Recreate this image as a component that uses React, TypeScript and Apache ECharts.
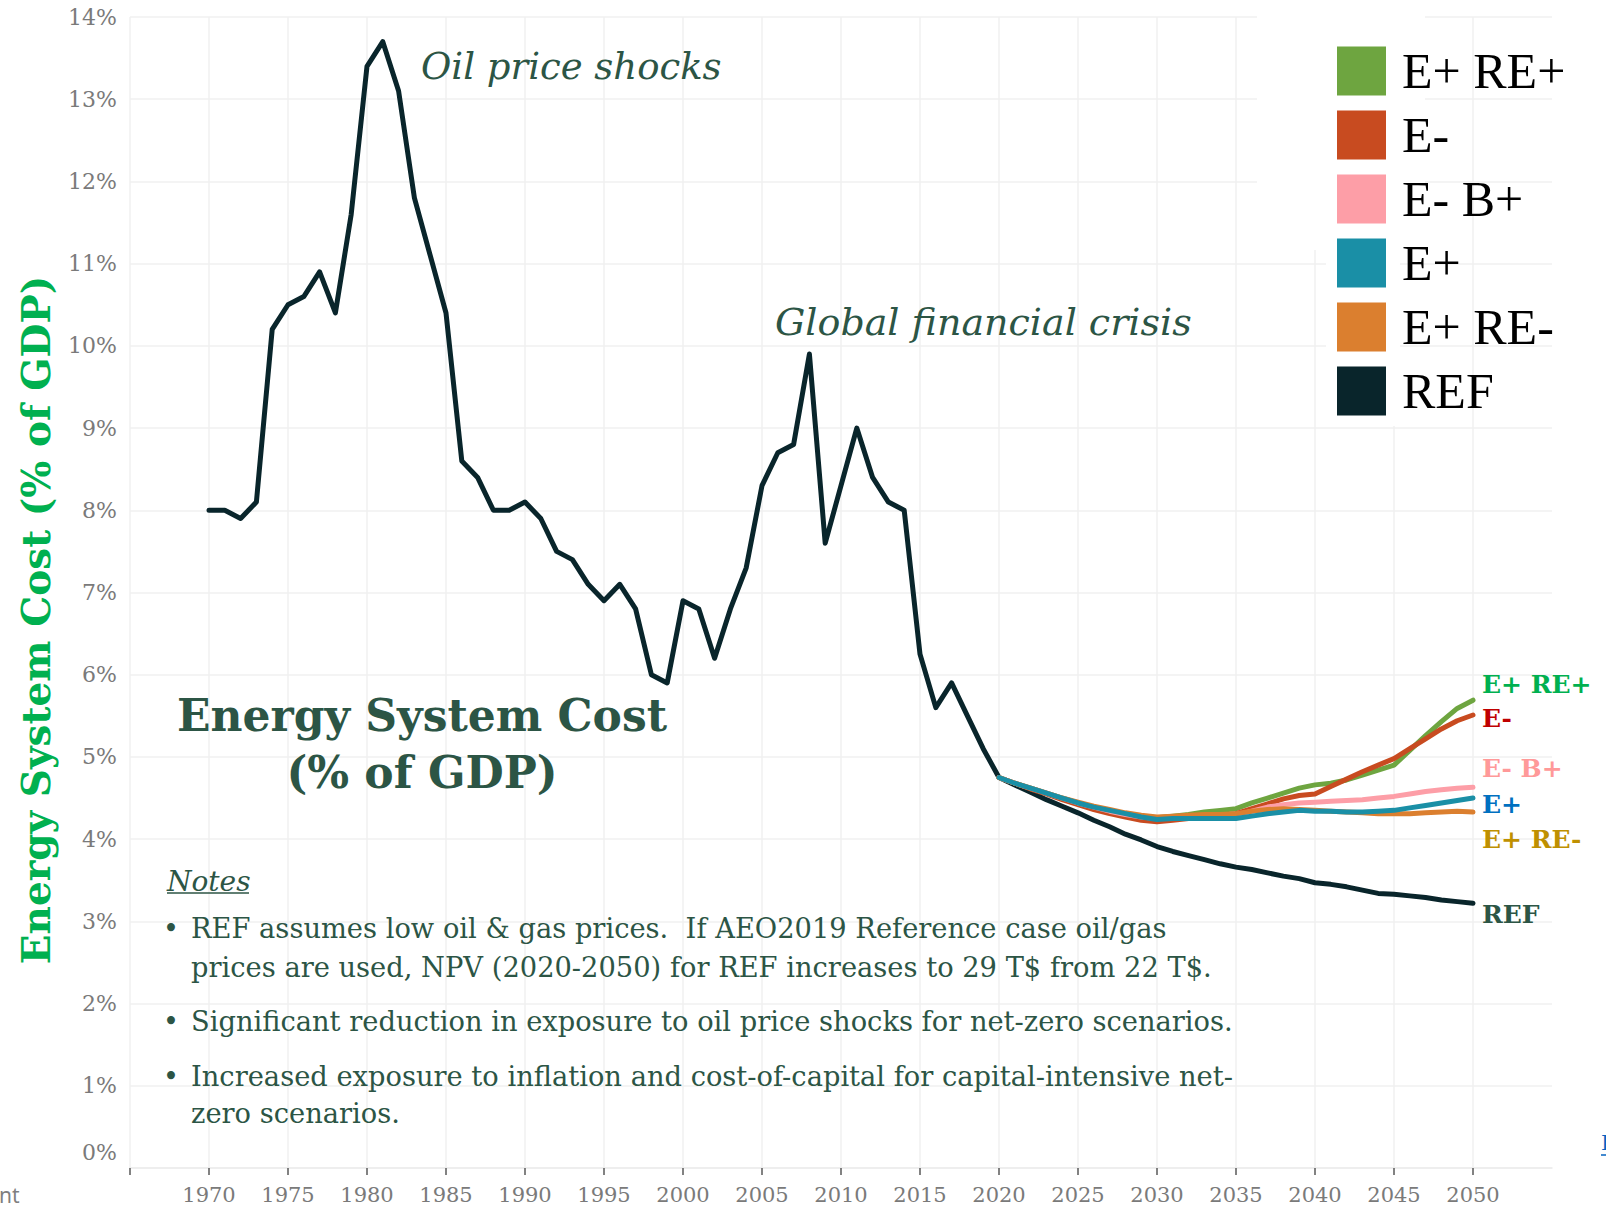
import React, { useEffect, useRef } from 'react';
import * as echarts from 'echarts';

// ---------------- DATA ----------------
const refStartYear = 1970;
// REF: historical 1970-2020 and projection 2021-2050 (% of GDP)
const refValues = [
  8.0, 8.0, 7.9, 8.1, 10.2, 10.5, 10.6, 10.9, 10.4, 11.6,
  13.4, 13.7, 13.1, 11.8, 11.1, 10.4, 8.6, 8.4, 8.0, 8.0,
  8.1, 7.9, 7.5, 7.4, 7.1, 6.9, 7.1, 6.8, 6.0, 5.9,
  6.9, 6.8, 6.2, 6.8, 7.3, 8.3, 8.7, 8.8, 9.9, 7.6,
  8.3, 9.0, 8.4, 8.1, 8.0, 6.25, 5.6, 5.9, 5.5, 5.1,
  4.75,
  4.66, 4.57, 4.48, 4.40, 4.32, 4.23, 4.15, 4.06, 3.99, 3.91,
  3.85, 3.80, 3.75, 3.70, 3.66, 3.63, 3.59, 3.55, 3.52, 3.47,
  3.45, 3.42, 3.38, 3.34, 3.33, 3.31, 3.29, 3.26, 3.24, 3.22,
];

const scenarioStartYear = 2020;
const ePlusREPlus = [
  4.75, 4.68, 4.62, 4.56, 4.50, 4.44, 4.39, 4.35, 4.31, 4.28, 4.26,
  4.28, 4.30, 4.33, 4.35, 4.37, 4.44, 4.50, 4.56, 4.62, 4.66,
  4.68, 4.72, 4.78, 4.84, 4.90, 5.08, 5.26, 5.43, 5.59, 5.69,
];
const eMinus = [
  4.75, 4.68, 4.61, 4.55, 4.48, 4.42, 4.36, 4.31, 4.27, 4.23, 4.21,
  4.23, 4.25, 4.27, 4.29, 4.31, 4.37, 4.43, 4.49, 4.53, 4.55,
  4.64, 4.73, 4.82, 4.90, 4.98, 5.10, 5.22, 5.34, 5.44, 5.51,
];
const eMinusBPlus = [
  4.75, 4.68, 4.62, 4.56, 4.50, 4.44, 4.39, 4.34, 4.30, 4.27, 4.25,
  4.26, 4.27, 4.28, 4.28, 4.29, 4.34, 4.39, 4.42, 4.44, 4.45,
  4.46, 4.47, 4.48, 4.50, 4.52, 4.55, 4.58, 4.60, 4.62, 4.63,
];
const ePlus = [
  4.75, 4.68, 4.62, 4.56, 4.50, 4.44, 4.39, 4.35, 4.31, 4.27, 4.24,
  4.25, 4.25, 4.25, 4.25, 4.25, 4.28, 4.31, 4.33, 4.35, 4.34,
  4.34, 4.33, 4.33, 4.34, 4.35, 4.38, 4.41, 4.44, 4.47, 4.50,
];
const ePlusREMinus = [
  4.75, 4.68, 4.62, 4.56, 4.50, 4.45, 4.40, 4.36, 4.32, 4.29, 4.27,
  4.28, 4.29, 4.30, 4.30, 4.31, 4.34, 4.36, 4.37, 4.36, 4.35,
  4.34, 4.33, 4.32, 4.31, 4.31, 4.31, 4.32, 4.33, 4.34, 4.33,
];

const legendNames = ['E+ RE+', 'E-', 'E- B+', 'E+', 'E+ RE-', 'REF'];
const xTickYears = [1965, 1970, 1975, 1980, 1985, 1990, 1995, 2000, 2005, 2010, 2015, 2020, 2025, 2030, 2035, 2040, 2045, 2050];
const xLabelYears = [1970, 1975, 1980, 1985, 1990, 1995, 2000, 2005, 2010, 2015, 2020, 2025, 2030, 2035, 2040, 2045, 2050];

const noteLines = [
  'REF assumes low oil & gas prices.\u00a0 If AEO2019 Reference case oil/gas',
  'prices are used, NPV (2020-2050) for REF increases to 29 T$ from 22 T$.',
  'Significant reduction in exposure to oil price shocks for net-zero scenarios.',
  'Increased exposure to inflation and cost-of-capital for capital-intensive net-',
  'zero scenarios.',
];

// ---------------- STYLE ----------------
const SERIF = "'DejaVu Serif', serif";
const DARK_GREEN = '#2c5545';
const COLORS: Record<string, string> = {
  'E+ RE+': '#6ea540',
  'E-': '#c84b20',
  'E- B+': '#fd9ea7',
  'E+': '#1a8fa6',
  'E+ RE-': '#db7f2f',
  REF: '#09252b',
};
const END_LABEL_COLORS: Record<string, string> = {
  'E+ RE+': '#00b050',
  'E-': '#c00000',
  'E- B+': '#ff9999',
  'E+': '#0070c0',
  'E+ RE-': '#bf9000',
  REF: DARK_GREEN,
};

function toPairs(start: number, vals: number[]) {
  return vals.map((v, i) => [start + i, v]);
}

function lineSeries(name: string, start: number, vals: number[], z: number) {
  return {
    name,
    type: 'line',
    data: toPairs(start, vals),
    showSymbol: false,
    symbol: 'none',
    z,
    lineStyle: { color: COLORS[name], width: 5, join: 'round', cap: 'round' },
    itemStyle: { color: COLORS[name] },
    emphasis: { disabled: true },
  };
}

export default function App() {
  const ref = useRef<HTMLDivElement>(null);
  useEffect(() => {
    document.body.style.margin = '0';
    const chart = echarts.init(ref.current!, undefined, { renderer: 'svg' });

    const endLabels: [string, number][] = [
      ['E+ RE+', 684],
      ['E-', 718],
      ['E- B+', 768],
      ['E+', 804],
      ['E+ RE-', 839],
      ['REF', 914],
    ];

    const noteYs = [928, 967, 1021, 1076, 1113];
    const bulletYs = [928, 1021, 1076];

    const graphic: any[] = [
      // white background of pasted legend
      { type: 'rect', z: 1, shape: { x: 1257, y: 0, width: 168, height: 250 }, style: { fill: '#fff' } },
      { type: 'rect', z: 1, shape: { x: 1326, y: 250, width: 74, height: 176 }, style: { fill: '#fff' } },
      // annotations
      {
        type: 'text', z: 10, x: 421, y: 66,
        style: { text: 'Oil price shocks', fontFamily: SERIF, fontStyle: 'italic', fontSize: 37, fill: DARK_GREEN, verticalAlign: 'middle', align: 'left' },
      },
      {
        type: 'text', z: 10, x: 775, y: 322,
        style: { text: 'Global financial crisis', fontFamily: SERIF, fontStyle: 'italic', fontSize: 38, fill: DARK_GREEN, verticalAlign: 'middle', align: 'left' },
      },
      {
        type: 'text', z: 10, x: 422, y: 715,
        style: { text: 'Energy System Cost', fontFamily: SERIF, fontWeight: 'bold', fontSize: 44, fill: DARK_GREEN, verticalAlign: 'middle', align: 'center' },
      },
      {
        type: 'text', z: 10, x: 422, y: 772,
        style: { text: '(% of GDP)', fontFamily: SERIF, fontWeight: 'bold', fontSize: 44, fill: DARK_GREEN, verticalAlign: 'middle', align: 'center' },
      },
      // y axis title
      {
        type: 'text', z: 10, x: 36, y: 620, rotation: Math.PI / 2,
        style: { text: 'Energy System Cost (% of GDP)', fontFamily: SERIF, fontWeight: 'bold', fontSize: 39, fill: '#00b050', verticalAlign: 'middle', align: 'center' },
      },
      // Notes
      {
        type: 'text', z: 10, x: 167, y: 881,
        style: { text: 'Notes', fontFamily: SERIF, fontStyle: 'italic', fontSize: 28, fill: DARK_GREEN, verticalAlign: 'middle', align: 'left' },
      },
      { type: 'line', z: 10, shape: { x1: 167, y1: 893, x2: 249, y2: 893 }, style: { stroke: DARK_GREEN, lineWidth: 1.5 } },
      ...bulletYs.map((y) => ({
        type: 'text', z: 10, x: 171, y,
        style: { text: '•', fontFamily: SERIF, fontSize: 27, fill: DARK_GREEN, verticalAlign: 'middle', align: 'center' },
      })),
      ...noteLines.map((t, i) => ({
        type: 'text', z: 10, x: 191, y: noteYs[i],
        style: { text: t, fontFamily: SERIF, fontSize: 27.3, fill: DARK_GREEN, verticalAlign: 'middle', align: 'left' },
      })),
      // end labels
      ...endLabels.map(([name, y]) => ({
        type: 'text', z: 10, x: 1482, y,
        style: { text: name, fontFamily: SERIF, fontWeight: 'bold', fontSize: 25, fill: END_LABEL_COLORS[name], verticalAlign: 'middle', align: 'left' },
      })),
      // cropped fragments at edges
      {
        type: 'text', z: 10, x: -1, y: 1195,
        style: { text: 'nt', fontFamily: "'Noto Sans', sans-serif", fontSize: 21, fill: '#7f7f7f', verticalAlign: 'middle', align: 'left' },
      },
      {
        type: 'text', z: 10, x: 1601, y: 1143,
        style: { text: 'I', fontFamily: SERIF, fontSize: 21, fill: '#0563c1', verticalAlign: 'middle', align: 'left' },
      },
      { type: 'line', z: 10, shape: { x1: 1601, y1: 1155, x2: 1606, y2: 1155 }, style: { stroke: '#0563c1', lineWidth: 1.5 } },
    ];

    const option: any = {
      animation: false,
      backgroundColor: '#ffffff',
      grid: { left: 130, right: 54, top: 17, bottom: 41, containLabel: false },
      xAxis: {
        type: 'value',
        min: 1965,
        max: 2055,
        interval: 5,
        axisLine: { show: true, lineStyle: { color: '#ececec', width: 1.5 } },
        axisTick: { show: true, length: 7, customValues: xTickYears, lineStyle: { color: '#595959', width: 1.5 } },
        axisLabel: {
          customValues: xLabelYears,
          formatter: (v: number) => String(v),
          color: '#7a7a7a',
          fontFamily: SERIF,
          fontSize: 21,
          margin: 16,
        },
        splitLine: { show: true, lineStyle: { color: '#f0f0f0', width: 1.5 } },
      },
      yAxis: {
        type: 'value',
        min: 0,
        max: 14,
        interval: 1,
        axisLine: { show: false },
        axisTick: { show: false },
        axisLabel: {
          formatter: (v: number) => (v === 0 ? '{z|0%}' : v + '%'),
          color: '#7a7a7a',
          fontFamily: SERIF,
          fontSize: 22,
          margin: 13,
          rich: {
            z: { color: '#7a7a7a', fontFamily: SERIF, fontSize: 22, padding: [0, 0, 32, 0] },
          },
        },
        splitLine: { show: true, lineStyle: { color: '#f0f0f0', width: 1.5 } },
      },
      legend: {
        orient: 'vertical',
        left: 1337,
        top: 46,
        padding: 0,
        itemWidth: 49,
        itemHeight: 49,
        itemGap: 14,
        icon: 'rect',
        selectedMode: false,
        itemStyle: { borderWidth: 0 },
        textStyle: { fontFamily: "'Liberation Serif', serif", fontSize: 50, lineHeight: 49, height: 49, color: '#000', padding: [0, 0, 0, 11] },
        data: legendNames,
      },
      series: [
        lineSeries('REF', refStartYear, refValues, 2),
        lineSeries('E+ RE+', scenarioStartYear, ePlusREPlus, 3),
        lineSeries('E-', scenarioStartYear, eMinus, 3),
        lineSeries('E- B+', scenarioStartYear, eMinusBPlus, 3),
        lineSeries('E+ RE-', scenarioStartYear, ePlusREMinus, 3),
        lineSeries('E+', scenarioStartYear, ePlus, 3),
      ],
      graphic,
    };

    chart.setOption(option);
    return () => chart.dispose();
  }, []);

  return (
    <div
      ref={ref}
      style={{ position: 'absolute', left: 0, top: 0, width: 1606, height: 1209 }}
    />
  );
}
